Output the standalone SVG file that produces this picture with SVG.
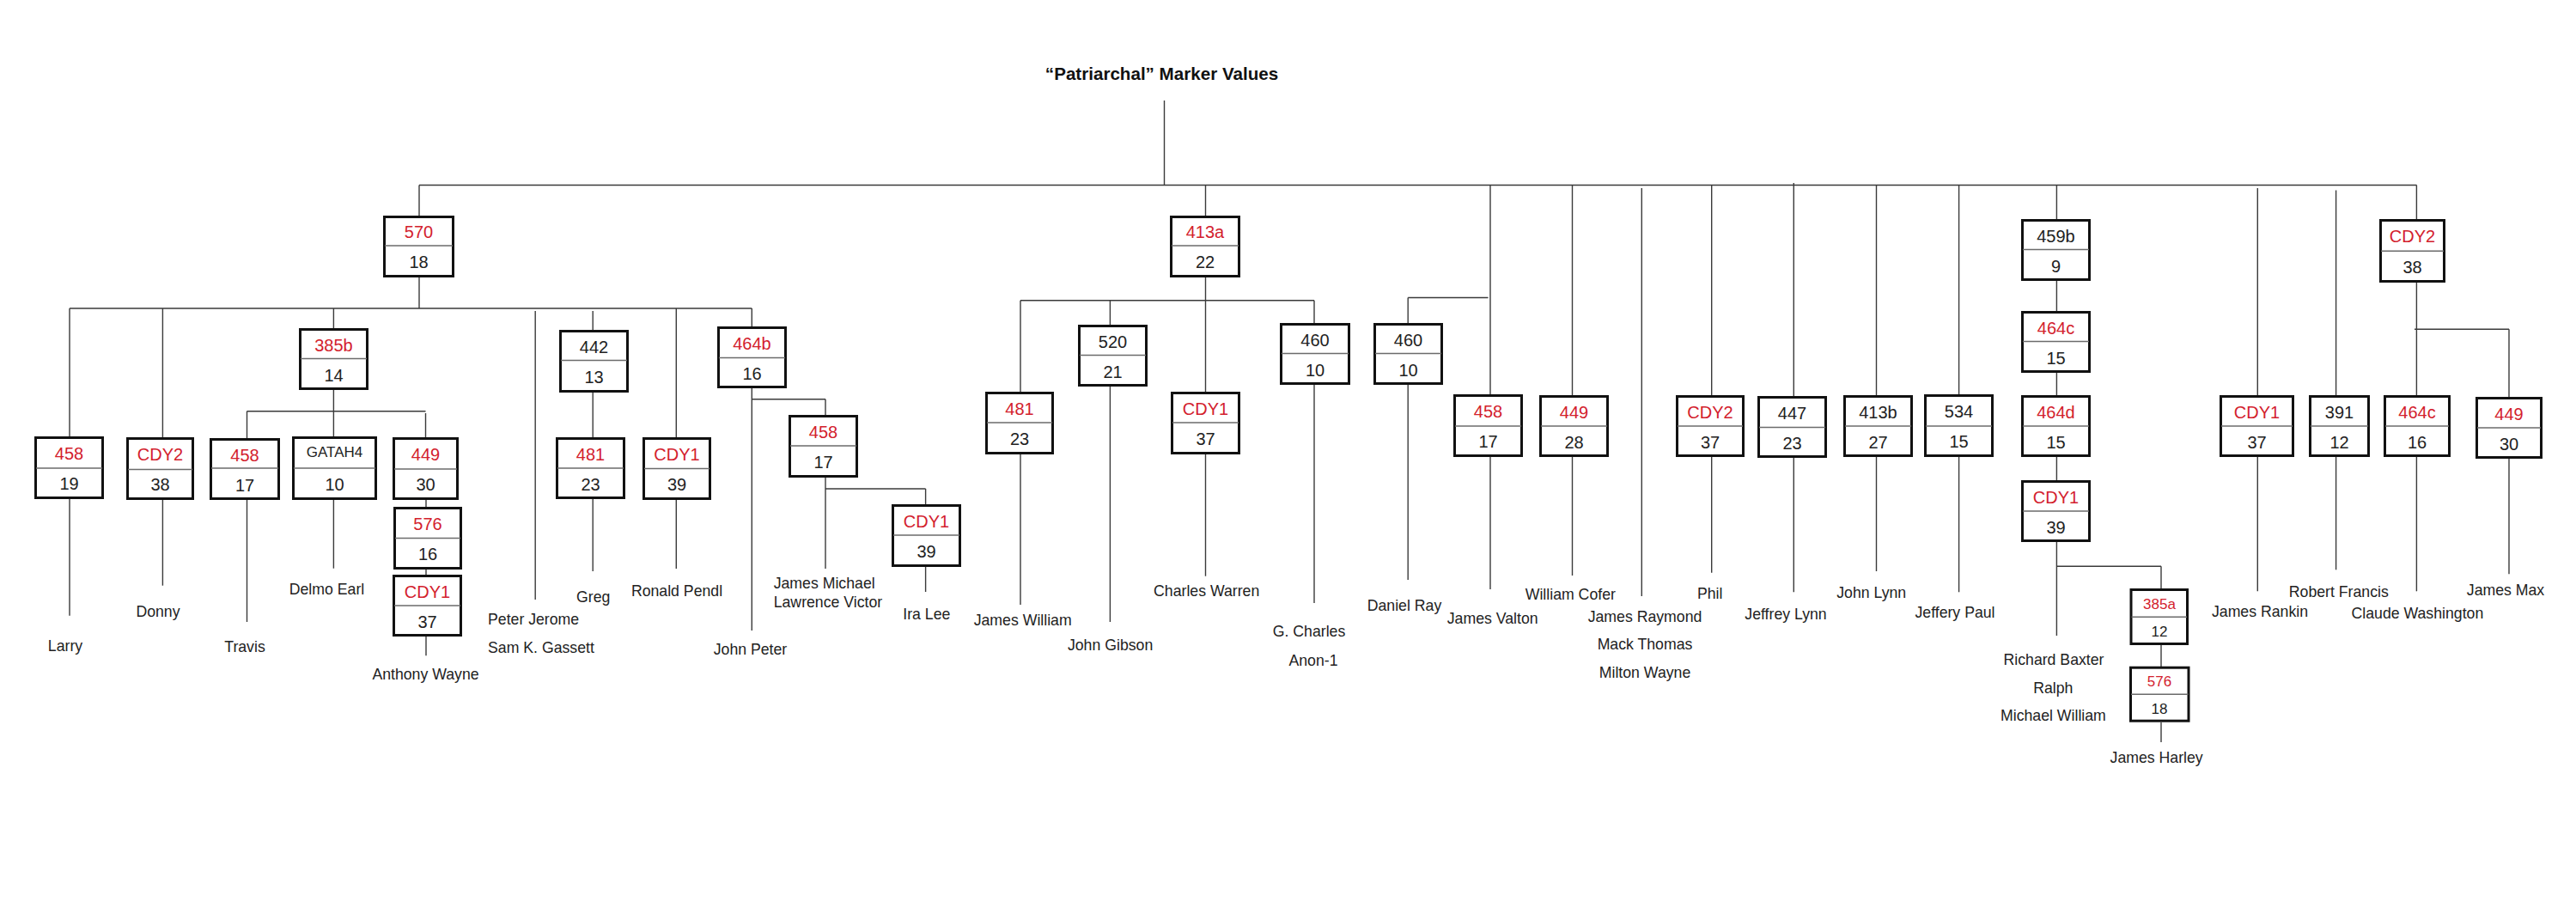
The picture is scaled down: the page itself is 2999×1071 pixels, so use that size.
<svg xmlns="http://www.w3.org/2000/svg" width="2999" height="1071" viewBox="0 0 2999 1071">
<style>
.bx rect{fill:#fff;stroke:#111;stroke-width:3}
.bx line{stroke:#6b6b6b;stroke-width:1.6}
.bx text{font-family:"Liberation Sans",Arial,sans-serif;font-size:20px;text-anchor:middle;fill:#222}
.bx text.r{fill:#d3212d}
.bx text.s{font-size:17px}
.nm{font-family:"Liberation Sans",Arial,sans-serif;font-size:17.7px;fill:#222;text-anchor:middle}
.nl{font-family:"Liberation Sans",Arial,sans-serif;font-size:17.7px;fill:#222;text-anchor:start}
.title{font-family:"Liberation Sans",Arial,sans-serif;font-size:20.6px;font-weight:bold;fill:#111;text-anchor:middle}
#connectors line{stroke:#3a3a3a;stroke-width:1.4;fill:none}
</style>
<rect width="2999" height="1071" fill="#fff"/>
<text class="title" x="1352.5" y="93">“Patriarchal” Marker Values</text>
<g id="connectors">
<line x1="1355.5" y1="117" x2="1355.5" y2="215.5"/>
<line x1="488" y1="215.5" x2="2813.5" y2="215.5"/>
<line x1="488" y1="215.5" x2="488" y2="251"/>
<line x1="1403.5" y1="215.5" x2="1403.5" y2="251"/>
<line x1="1735" y1="215.5" x2="1735" y2="459"/>
<line x1="1830.5" y1="215.5" x2="1830.5" y2="460"/>
<line x1="1911.3" y1="219" x2="1911.3" y2="694"/>
<line x1="1992.7" y1="215.5" x2="1992.7" y2="460"/>
<line x1="2088.3" y1="213" x2="2088.3" y2="461"/>
<line x1="2184.5" y1="215.5" x2="2184.5" y2="460"/>
<line x1="2280.6" y1="215.5" x2="2280.6" y2="459"/>
<line x1="2394.4" y1="215.5" x2="2394.4" y2="255"/>
<line x1="2628.3" y1="219" x2="2628.3" y2="460"/>
<line x1="2719.6" y1="221.5" x2="2719.6" y2="460"/>
<line x1="2813.4" y1="215.5" x2="2813.4" y2="255"/>
<line x1="488" y1="323" x2="488" y2="359"/>
<line x1="81" y1="359" x2="875.3" y2="359"/>
<line x1="81" y1="359" x2="81" y2="508"/>
<line x1="189.4" y1="359" x2="189.4" y2="509"/>
<line x1="388.4" y1="359" x2="388.4" y2="382"/>
<line x1="623.2" y1="362" x2="623.2" y2="698"/>
<line x1="690.2" y1="362" x2="690.2" y2="384"/>
<line x1="787.3" y1="359" x2="787.3" y2="509"/>
<line x1="875.3" y1="359" x2="875.3" y2="380"/>
<line x1="388.4" y1="454" x2="388.4" y2="508"/>
<line x1="287.5" y1="478.7" x2="495.5" y2="478.7"/>
<line x1="287.5" y1="478.7" x2="287.5" y2="510"/>
<line x1="495.5" y1="481" x2="495.5" y2="509"/>
<line x1="81" y1="581" x2="81" y2="716.7"/>
<line x1="189.4" y1="582" x2="189.4" y2="681.7"/>
<line x1="287.5" y1="582" x2="287.5" y2="724"/>
<line x1="388.4" y1="582" x2="388.4" y2="661.7"/>
<line x1="496" y1="582" x2="496" y2="590"/>
<line x1="496" y1="663" x2="496" y2="669"/>
<line x1="496" y1="741" x2="496" y2="763.3"/>
<line x1="690.2" y1="457" x2="690.2" y2="509"/>
<line x1="690.2" y1="581" x2="690.2" y2="665"/>
<line x1="787.3" y1="582" x2="787.3" y2="662"/>
<line x1="875.3" y1="452" x2="875.3" y2="734"/>
<line x1="875.3" y1="464.7" x2="961" y2="464.7"/>
<line x1="961" y1="464.7" x2="961" y2="483"/>
<line x1="961" y1="556" x2="961" y2="662"/>
<line x1="961" y1="569" x2="1077.6" y2="569"/>
<line x1="1077.6" y1="569" x2="1077.6" y2="587"/>
<line x1="1077.6" y1="660" x2="1077.6" y2="689"/>
<line x1="1403.5" y1="323" x2="1403.5" y2="456"/>
<line x1="1188" y1="349.7" x2="1530" y2="349.7"/>
<line x1="1188" y1="349.7" x2="1188" y2="456"/>
<line x1="1292.4" y1="349.7" x2="1292.4" y2="378"/>
<line x1="1530" y1="349.7" x2="1530" y2="376"/>
<line x1="1188" y1="529" x2="1188" y2="704"/>
<line x1="1292.4" y1="450" x2="1292.4" y2="724"/>
<line x1="1403.5" y1="529" x2="1403.5" y2="670.7"/>
<line x1="1530" y1="448" x2="1530" y2="702"/>
<line x1="1639.2" y1="346.5" x2="1732.5" y2="346.5"/>
<line x1="1639.2" y1="346.5" x2="1639.2" y2="376"/>
<line x1="1639.2" y1="448" x2="1639.2" y2="675"/>
<line x1="1735" y1="532" x2="1735" y2="686"/>
<line x1="1830.5" y1="532" x2="1830.5" y2="670"/>
<line x1="1992.7" y1="532" x2="1992.7" y2="666.7"/>
<line x1="2088.3" y1="533" x2="2088.3" y2="689.3"/>
<line x1="2184.5" y1="532" x2="2184.5" y2="665"/>
<line x1="2280.6" y1="532" x2="2280.6" y2="689.3"/>
<line x1="2394.4" y1="327" x2="2394.4" y2="362"/>
<line x1="2394.4" y1="434" x2="2394.4" y2="460"/>
<line x1="2394.4" y1="532" x2="2394.4" y2="559"/>
<line x1="2394.4" y1="631" x2="2394.4" y2="740"/>
<line x1="2394.4" y1="659.3" x2="2516" y2="659.3"/>
<line x1="2516" y1="659.3" x2="2516" y2="685"/>
<line x1="2516" y1="751" x2="2516" y2="776"/>
<line x1="2516" y1="841" x2="2516" y2="864"/>
<line x1="2628.3" y1="532" x2="2628.3" y2="688.3"/>
<line x1="2719.6" y1="532" x2="2719.6" y2="663.3"/>
<line x1="2813.4" y1="329" x2="2813.4" y2="460"/>
<line x1="2811" y1="383.3" x2="2921" y2="383.3"/>
<line x1="2921" y1="383.3" x2="2921" y2="462"/>
<line x1="2813.4" y1="532" x2="2813.4" y2="688.3"/>
<line x1="2921" y1="534" x2="2921" y2="668.3"/>
</g>
<g id="n570" class="bx"><rect x="447.5" y="252.5" width="80" height="69"/><line x1="448" y1="286" x2="527" y2="286"/><text class="r" x="487.5" y="277">570</text><text x="487.5" y="312">18</text></g>
<g id="n413a" class="bx"><rect x="1363.5" y="252.5" width="79" height="69"/><line x1="1364" y1="286" x2="1442" y2="286"/><text class="r" x="1403" y="277">413a</text><text x="1403" y="312">22</text></g>
<g id="n385b" class="bx"><rect x="349.5" y="383.5" width="78" height="69"/><line x1="350" y1="417.5" x2="427" y2="417.5"/><text class="r" x="388.5" y="408.5">385b</text><text x="388.5" y="443.5">14</text></g>
<g id="n442" class="bx"><rect x="652.5" y="385.5" width="78" height="70"/><line x1="653" y1="419.5" x2="730" y2="419.5"/><text x="691.5" y="410.5">442</text><text x="691.5" y="445.5">13</text></g>
<g id="n464b" class="bx"><rect x="836.5" y="381.5" width="78" height="69"/><line x1="837" y1="416.5" x2="914" y2="416.5"/><text class="r" x="875.5" y="406.5">464b</text><text x="875.5" y="441.5">16</text></g>
<g id="n520" class="bx"><rect x="1256.5" y="379.5" width="78" height="69"/><line x1="1257" y1="413.5" x2="1334" y2="413.5"/><text x="1295.5" y="404.5">520</text><text x="1295.5" y="439.5">21</text></g>
<g id="n460a" class="bx"><rect x="1491.5" y="377.5" width="79" height="69"/><line x1="1492" y1="411.5" x2="1570" y2="411.5"/><text x="1531" y="402.5">460</text><text x="1531" y="437.5">10</text></g>
<g id="n460b" class="bx"><rect x="1600.5" y="377.5" width="78" height="69"/><line x1="1601" y1="411.5" x2="1678" y2="411.5"/><text x="1639.5" y="402.5">460</text><text x="1639.5" y="437.5">10</text></g>
<g id="n458_larry" class="bx"><rect x="41.5" y="509.5" width="78" height="70"/><line x1="42" y1="545" x2="119" y2="545"/><text class="r" x="80.5" y="534.5">458</text><text x="80.5" y="569.5">19</text></g>
<g id="nCDY2_donny" class="bx"><rect x="148.5" y="510.5" width="76" height="70"/><line x1="149" y1="546.5" x2="224" y2="546.5"/><text class="r" x="186.5" y="535.5">CDY2</text><text x="186.5" y="570.5">38</text></g>
<g id="n458_travis" class="bx"><rect x="245.5" y="511.5" width="79" height="69"/><line x1="246" y1="545" x2="324" y2="545"/><text class="r" x="285" y="536.5">458</text><text x="285" y="571.5">17</text></g>
<g id="nGATAH4" class="bx"><rect x="341.5" y="509.5" width="96" height="71"/><line x1="342" y1="545" x2="437" y2="545"/><text class="s" x="389.5" y="532">GATAH4</text><text x="389.5" y="570.5">10</text></g>
<g id="n449_a" class="bx"><rect x="458.5" y="510.5" width="74" height="70"/><line x1="459" y1="546" x2="532" y2="546"/><text class="r" x="495.5" y="535.5">449</text><text x="495.5" y="570.5">30</text></g>
<g id="n576_a" class="bx"><rect x="459.5" y="591.5" width="77" height="70"/><line x1="460" y1="626.5" x2="536" y2="626.5"/><text class="r" x="498" y="616.5">576</text><text x="498" y="651.5">16</text></g>
<g id="nCDY1_anthony" class="bx"><rect x="458.5" y="670.5" width="78" height="69"/><line x1="459" y1="705" x2="536" y2="705"/><text class="r" x="497.5" y="695.5">CDY1</text><text x="497.5" y="730.5">37</text></g>
<g id="n481_greg" class="bx"><rect x="648.5" y="510.5" width="78" height="69"/><line x1="649" y1="545" x2="726" y2="545"/><text class="r" x="687.5" y="535.5">481</text><text x="687.5" y="570.5">23</text></g>
<g id="nCDY1_ronald" class="bx"><rect x="749.5" y="510.5" width="77" height="70"/><line x1="750" y1="545.5" x2="826" y2="545.5"/><text class="r" x="788" y="535.5">CDY1</text><text x="788" y="570.5">39</text></g>
<g id="n458_c" class="bx"><rect x="919.5" y="484.5" width="78" height="70"/><line x1="920" y1="519" x2="997" y2="519"/><text class="r" x="958.5" y="509.5">458</text><text x="958.5" y="544.5">17</text></g>
<g id="nCDY1_ira" class="bx"><rect x="1039.5" y="588.5" width="78" height="70"/><line x1="1040" y1="623" x2="1117" y2="623"/><text class="r" x="1078.5" y="613.5">CDY1</text><text x="1078.5" y="648.5">39</text></g>
<g id="n481_jw" class="bx"><rect x="1148.5" y="457.5" width="77" height="70"/><line x1="1149" y1="492" x2="1225" y2="492"/><text class="r" x="1187" y="482.5">481</text><text x="1187" y="517.5">23</text></g>
<g id="nCDY1_cw" class="bx"><rect x="1364.5" y="457.5" width="78" height="70"/><line x1="1365" y1="492" x2="1442" y2="492"/><text class="r" x="1403.5" y="482.5">CDY1</text><text x="1403.5" y="517.5">37</text></g>
<g id="n458_jv" class="bx"><rect x="1693.5" y="460.5" width="78" height="70"/><line x1="1694" y1="496" x2="1771" y2="496"/><text class="r" x="1732.5" y="485.5">458</text><text x="1732.5" y="520.5">17</text></g>
<g id="n449_b" class="bx"><rect x="1793.5" y="461.5" width="78" height="69"/><line x1="1794" y1="496" x2="1871" y2="496"/><text class="r" x="1832.5" y="486.5">449</text><text x="1832.5" y="521.5">28</text></g>
<g id="nCDY2_phil" class="bx"><rect x="1952.5" y="461.5" width="77" height="69"/><line x1="1953" y1="496" x2="2029" y2="496"/><text class="r" x="1991" y="486.5">CDY2</text><text x="1991" y="521.5">37</text></g>
<g id="n447" class="bx"><rect x="2047.5" y="462.5" width="78" height="69"/><line x1="2048" y1="497.5" x2="2125" y2="497.5"/><text x="2086.5" y="487.5">447</text><text x="2086.5" y="522.5">23</text></g>
<g id="n413b" class="bx"><rect x="2147.5" y="461.5" width="78" height="69"/><line x1="2148" y1="496" x2="2225" y2="496"/><text x="2186.5" y="486.5">413b</text><text x="2186.5" y="521.5">27</text></g>
<g id="n534" class="bx"><rect x="2241.5" y="460.5" width="78" height="70"/><line x1="2242" y1="496" x2="2319" y2="496"/><text x="2280.5" y="485.5">534</text><text x="2280.5" y="520.5">15</text></g>
<g id="n459b" class="bx"><rect x="2354.5" y="256.5" width="78" height="69"/><line x1="2355" y1="290.5" x2="2432" y2="290.5"/><text x="2393.5" y="281.5">459b</text><text x="2393.5" y="316.5">9</text></g>
<g id="n464c_a" class="bx"><rect x="2354.5" y="363.5" width="78" height="69"/><line x1="2355" y1="397.5" x2="2432" y2="397.5"/><text class="r" x="2393.5" y="388.5">464c</text><text x="2393.5" y="423.5">15</text></g>
<g id="n464d" class="bx"><rect x="2354.5" y="461.5" width="78" height="69"/><line x1="2355" y1="496" x2="2432" y2="496"/><text class="r" x="2393.5" y="486.5">464d</text><text x="2393.5" y="521.5">15</text></g>
<g id="nCDY1_e" class="bx"><rect x="2354.5" y="560.5" width="78" height="69"/><line x1="2355" y1="595" x2="2432" y2="595"/><text class="r" x="2393.5" y="585.5">CDY1</text><text x="2393.5" y="620.5">39</text></g>
<g id="n385a" class="bx"><rect x="2481" y="686.5" width="65.5" height="63"/><line x1="2481.5" y1="718.3" x2="2546" y2="718.3"/><text class="r s" x="2514" y="709">385a</text><text class="s" x="2514" y="741">12</text></g>
<g id="n576_b" class="bx"><rect x="2480.5" y="777.2" width="67.5" height="62"/><line x1="2481" y1="808.3" x2="2547.5" y2="808.3"/><text class="r s" x="2514" y="799">576</text><text class="s" x="2514" y="830.5">18</text></g>
<g id="nCDY1_rankin" class="bx"><rect x="2585.5" y="461.5" width="84" height="69"/><line x1="2586" y1="496" x2="2669" y2="496"/><text class="r" x="2627.5" y="486.5">CDY1</text><text x="2627.5" y="521.5">37</text></g>
<g id="n391" class="bx"><rect x="2689.5" y="461.5" width="68" height="69"/><line x1="2690" y1="496" x2="2757" y2="496"/><text x="2723.5" y="486.5">391</text><text x="2723.5" y="521.5">12</text></g>
<g id="n464c_b" class="bx"><rect x="2776.5" y="461.5" width="75" height="69"/><line x1="2777" y1="496" x2="2851" y2="496"/><text class="r" x="2814" y="486.5">464c</text><text x="2814" y="521.5">16</text></g>
<g id="n449_c" class="bx"><rect x="2883.5" y="463.5" width="75" height="69"/><line x1="2884" y1="498" x2="2958" y2="498"/><text class="r" x="2921" y="488.5">449</text><text x="2921" y="523.5">30</text></g>
<g id="nCDY2_c" class="bx"><rect x="2771.5" y="256.5" width="74" height="71"/><line x1="2772" y1="292.3" x2="2845" y2="292.3"/><text class="r" x="2808.5" y="281.5">CDY2</text><text x="2808.5" y="317.5">38</text></g>
<g id="names">
<text class="nm" x="76" y="758.3">Larry</text>
<text class="nm" x="184" y="718.3">Donny</text>
<text class="nm" x="285" y="759.3">Travis</text>
<text class="nm" x="380.5" y="692.3">Delmo Earl</text>
<text class="nm" x="495.5" y="791.3">Anthony Wayne</text>
<text class="nl" x="568" y="727.3">Peter Jerome</text>
<text class="nl" x="568" y="760.3">Sam K. Gassett</text>
<text class="nm" x="690.7" y="701.3">Greg</text>
<text class="nm" x="788" y="694.3">Ronald Pendl</text>
<text class="nm" x="873.5" y="762.3">John Peter</text>
<text class="nl" x="900.7" y="685.3">James Michael</text>
<text class="nl" x="900.7" y="707.3">Lawrence Victor</text>
<text class="nm" x="1078.8" y="721.3">Ira Lee</text>
<text class="nm" x="1190.7" y="728.3">James William</text>
<text class="nm" x="1292.6" y="757.3">John Gibson</text>
<text class="nm" x="1404.7" y="694.3">Charles Warren</text>
<text class="nm" x="1524" y="741.3">G. Charles</text>
<text class="nm" x="1529" y="775.3">Anon-1</text>
<text class="nm" x="1635" y="711.3">Daniel Ray</text>
<text class="nm" x="1737.7" y="726.3">James Valton</text>
<text class="nm" x="1828.3" y="698.3">William Cofer</text>
<text class="nm" x="1915" y="724.3">James Raymond</text>
<text class="nm" x="1915" y="756.3">Mack Thomas</text>
<text class="nm" x="1915" y="789.3">Milton Wayne</text>
<text class="nm" x="1990.7" y="697.3">Phil</text>
<text class="nm" x="2079" y="721.3">Jeffrey Lynn</text>
<text class="nm" x="2178.7" y="696.3">John Lynn</text>
<text class="nm" x="2276" y="719.3">Jeffery Paul</text>
<text class="nm" x="2391" y="774.3">Richard Baxter</text>
<text class="nm" x="2390.3" y="807.3">Ralph</text>
<text class="nm" x="2390.4" y="839.3">Michael William</text>
<text class="nm" x="2510.6" y="888.3">James Harley</text>
<text class="nm" x="2631" y="718.3">James Rankin</text>
<text class="nm" x="2722.8" y="695.3">Robert Francis</text>
<text class="nm" x="2814.4" y="720.3">Claude Washington</text>
<text class="nm" x="2917" y="693.3">James Max</text>
</g>
</svg>
